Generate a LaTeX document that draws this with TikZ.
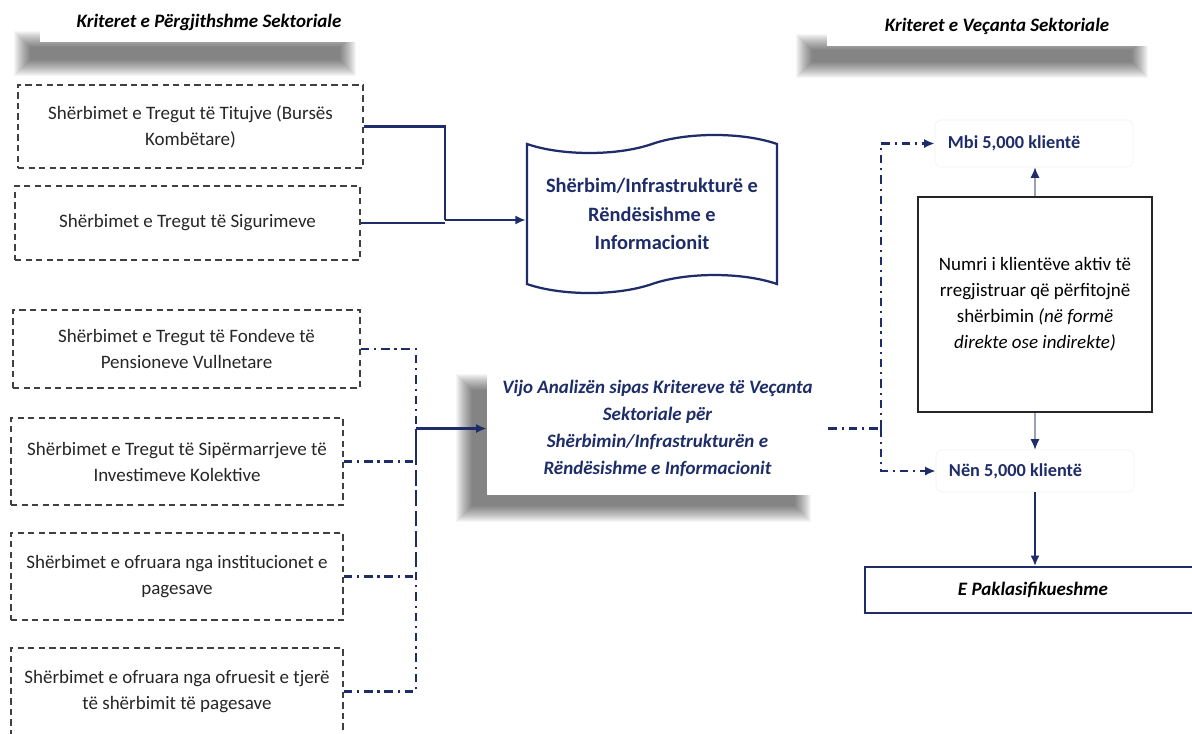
\documentclass[tikz,border=0pt]{standalone}
\usepackage{fontspec}
\setmainfont{Carlito}
\usepackage{xcolor}
\usetikzlibrary{shapes, shapes.symbols, arrows.meta, positioning}
\definecolor{navyblue}{RGB}{30,45,105}
\tikzset{
	% kutite e sherbimeve
	dashbox/.style={
		draw=black!75,
		dash pattern=on 4.5pt off 3pt,
		line width=0.9pt,
		align=center,
		text=black!85
	}, %
	% titujt
	header/.style={
		fill=white,
		font=\fontsize{13.5}{16}\selectfont\bfseries\itshape
	}, %
	% vijat me pika
	dashdot/.style={
		navyblue,
		line width=1.5pt,
		dash pattern=on 6pt off 3.5pt on 1.5pt off 3.5pt
	}, %
	link/.style={
		navyblue,
		line width=1.7pt
	}, %
	tip/.style={
		-{Latex[length=7.5pt, width=6.5pt]}
	}, %
	clientbox/.style={
		draw=gray!10,
		rounded corners=4pt,
		text=navyblue,
		font=\fontsize{13}{15}\selectfont\bfseries,
		text width=4.3cm,
		align=flush left,
		inner xsep=0.325cm
	}
}
% hije e bute
\newcommand{\softshadow}[4]{%
	\foreach \r in {0,1,...,16} {
		\fill [black, opacity=0.034] (#1-\r, #2-\r) rectangle (#3+\r, #4+\r);
	}%
}

\begin{document}
\begin{tikzpicture}[x=0.025cm, y=-0.025cm, font=\fontsize{13.5}{18.5}\selectfont]
			\useasboundingbox (0,0) rectangle (1192,733);
			\clip (0,0) rectangle (1192,733);
			\fill [white] (0,0) rectangle (1192,733);
			
			%% Hijet
			\softshadow{30}{47}{340}{60}
			\softshadow{812}{50}{1132}{62}
			\softshadow{472}{390}{795}{506}
			
			%% Titujt
			\node [header, minimum width=8.45cm, minimum height=1cm] (hdrgen) at (209,22) {Kriteret e Përgjithshme Sektoriale};
			\node [header, minimum width=8.5cm, minimum height=1cm] (hdrspec) at (997,26) {Kriteret e Veçanta Sektoriale};
			
			%% Sherbimet (majtas)
			\node [dashbox, minimum width=8.625cm, minimum height=2.075cm] (titujt) at (190.5,126.5) {Shërbimet e Tregut të Titujve (Bursës\\Kombëtare)};
			\node [dashbox, minimum width=8.625cm, minimum height=1.85cm] (sigurime) at (187.5,223) {Shërbimet e Tregut të Sigurimeve};
			\node [dashbox, minimum width=8.675cm, minimum height=1.95cm] (fonde) at (186.5,349) {Shërbimet e Tregut të Fondeve të\\Pensioneve Vullnetare};
			\node [dashbox, minimum width=8.3cm, minimum height=2.175cm] (sipermarrje) at (177,461.5) {Shërbimet e Tregut të Sipërmarrjeve të\\Investimeve Kolektive};
			\node [dashbox, minimum width=8.3cm, minimum height=2.175cm] (institucione) at (177,576.5) {Shërbimet e ofruara nga institucionet e\\pagesave};
			\node [dashbox, minimum width=8.3cm, minimum height=2.175cm] (ofrues) at (177,691.5) {Shërbimet e ofruara nga ofruesit e tjerë\\të shërbimit të pagesave};
			
			%% Infrastruktura
			\node [tape, draw=navyblue, line width=1.6pt, tape bend height=0.45cm, minimum width=6.25cm, minimum height=3.95cm,
				align=center, text=navyblue, font=\fontsize{14.5}{20}\selectfont\bfseries] (infra) at (652,214)
				{Shërbim/Infrastrukturë e\\Rëndësishme e\\Informacionit};
			
			%% Analiza
			\node [fill=white, minimum width=8.525cm, minimum height=3.325cm, align=center, text=navyblue,
				font=\fontsize{13.5}{19}\selectfont\bfseries\itshape] (vijo) at (657.5,428.5)
				{Vijo Analizën sipas Kritereve të Veçanta\\Sektoriale për\\Shërbimin/Infrastrukturën e\\Rëndësishme e Informacionit};
			
			%% Kriteret e vecanta
			\node [draw=black!85, line width=1.1pt, minimum width=5.85cm, minimum height=5.375cm, align=center] (numri) at (1035,304.5)
				{Numri i klientëve aktiv të\\rregjistruar që përfitojnë\\shërbimin \textit{(në formë}\\\textit{direkte ose indirekte)}};
			\node [clientbox, minimum height=1.175cm] (mbi) at (1034,143.5) {Mbi 5,000 klientë};
			\node [clientbox, minimum height=1.05cm] (nen) at (1035,471) {Nën 5,000 klientë};
			\node [draw=navyblue, line width=1.3pt, minimum width=8.4cm, minimum height=1.15cm,
				font=\fontsize{13.5}{16}\selectfont\bfseries\itshape] (paklas) at (1033,590) {E Paklasifikueshme};
			
			%% Lidhjet
			\coordinate (j1) at (445,220);
			\coordinate (j2) at (416,428.5);
			\coordinate (j3) at (881,428.5);
			\draw [link] (titujt.east) -| (j1);
			\draw [link] (sigurime.east) -- (sigurime.east -| j1);
			\draw [link, tip] (j1) -- (j1 -| infra.west);
			
			\foreach \src in {fonde, sipermarrje, institucione, ofrues} {
				\draw [dashdot] (\src.east) -| (j2);
			}
			\draw [link, tip] (j2) -- (vijo.west);
			
			\draw [dashdot] (vijo.east) -- (j3);
			\draw [dashdot, tip] (j3) |- (mbi.west);
			\draw [dashdot, tip] (j3) |- (nen.west);
			
			\draw [navyblue!45, line width=1pt, -{Latex[length=7.5pt, width=6.5pt, navyblue]}] (numri.north) -- (numri.north |- mbi.south);
			\draw [navyblue!45, line width=1pt, -{Latex[length=7.5pt, width=6.5pt, navyblue]}] (numri.south) -- (numri.south |- nen.north);
			\draw [link, tip] (nen.south) -- (nen.south |- paklas.north);
		\end{tikzpicture}
\end{document}
